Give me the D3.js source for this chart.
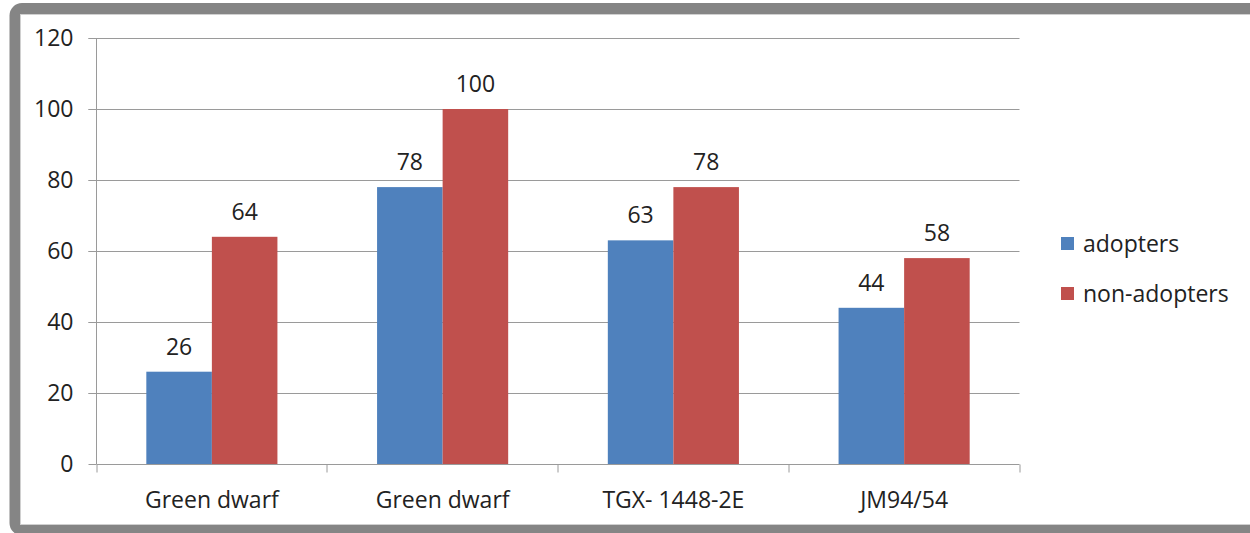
<!DOCTYPE html>
<html><head><meta charset="utf-8">
<script src="https://cdn.jsdelivr.net/npm/d3@7"></script>
<style>body{margin:0;background:#fff}svg{display:block}text{font-family:"Open Sans","Noto Sans",sans-serif;fill:#222}</style>
</head><body><svg id="c" width="1250" height="533"></svg>
<script>
const categories = ["Green dwarf","Green dwarf","TGX- 1448-2E","JM94/54"];
const seriesNames = ["adopters","non-adopters"];
const adopters = [26,78,63,44];
const nonAdopters = [64,100,78,58];
const yTicks = [0,20,40,60,80,100,120];
const colors = ["#4F81BD","#C0504D"];

const svg = d3.select("#c");
// frame
svg.append("rect").attr("x",15).attr("y",8.5).attr("width",1260).attr("height",521.5)
  .attr("rx",7).attr("fill","none").attr("stroke","#858585").attr("stroke-width",11);
svg.append("rect").attr("x",20.5).attr("y",14.5).attr("width",1240).attr("height",510)
  .attr("fill","none").attr("stroke","#d0d0d0").attr("stroke-width",1);

const L=96.5, R=1019.5, T=38, B=464;
const x0 = d3.scaleBand().domain(d3.range(categories.length)).range([L,R]).paddingInner(0).paddingOuter(0);
const x1 = d3.scaleBand().domain([0,1]).range([0,x0.bandwidth()]).paddingOuter(0.76).paddingInner(0);
const y = d3.scaleLinear().domain([0,120]).range([B,T]);

// gridlines
svg.append("g").selectAll("line").data(yTicks.filter(d=>d>0)).join("line")
  .attr("x1",L-8).attr("x2",R).attr("y1",d=>Math.round(y(d))+0.5).attr("y2",d=>Math.round(y(d))+0.5)
  .attr("stroke","#9a9a9a").attr("stroke-width",1);

// bars
const data = categories.map((c,i)=>[adopters[i],nonAdopters[i]]);
const g = svg.append("g");
data.forEach((vals,i)=>{
  vals.forEach((v,j)=>{
    const bx = x0(i)+x1(j);
    g.append("rect").attr("x",bx).attr("y",y(v)).attr("width",x1.bandwidth()).attr("height",B-y(v)).attr("fill",colors[j]);
    g.append("text").attr("x",bx+x1.bandwidth()/2).attr("y",y(v)-17).attr("text-anchor","middle")
      .attr("font-size",23).text(v);
  });
});

// y axis
const yAxis = d3.axisLeft(y).tickValues(yTicks).tickSize(8).tickPadding(15);
const ya = svg.append("g").attr("transform",`translate(${L},0)`).call(yAxis);
ya.select(".domain").attr("stroke","#9a9a9a").attr("d",`M0,${T}V${B}`);
ya.selectAll(".tick line").attr("stroke","#9a9a9a");
ya.selectAll(".tick text").attr("font-size",23).attr("fill","#222").attr("font-family","'Open Sans',sans-serif");

// x axis
const xa = svg.append("g").attr("transform",`translate(0,${Math.round(B)+0.5})`);
xa.append("line").attr("x1",L).attr("x2",R).attr("stroke","#9a9a9a");
xa.selectAll("line.t").data(d3.range(categories.length+1)).join("line").attr("class","t")
  .attr("x1",i=>Math.round(L+i*x0.bandwidth())).attr("x2",i=>Math.round(L+i*x0.bandwidth()))
  .attr("y1",0).attr("y2",8).attr("stroke","#9a9a9a");
xa.selectAll("text").data(categories).join("text")
  .attr("x",(d,i)=>x0(i)+x0.bandwidth()/2).attr("y",43).attr("text-anchor","middle")
  .attr("font-size",23).text(d=>d);

// legend
const lg = svg.append("g");
seriesNames.forEach((s,j)=>{
  const ly = 244 + j*50;
  lg.append("rect").attr("x",1061).attr("y",ly-7).attr("width",13).attr("height",13).attr("fill",colors[j]);
  lg.append("text").attr("x",1083).attr("y",ly+8).attr("font-size",23).text(s);
});
</script></body></html>
